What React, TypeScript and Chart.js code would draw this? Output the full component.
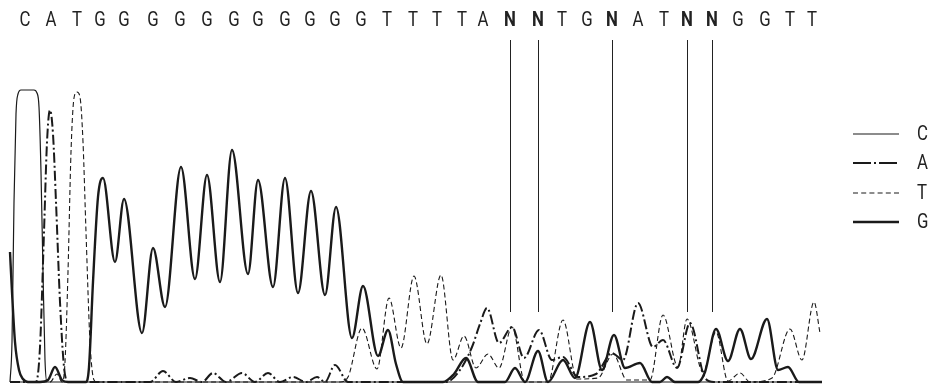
import React, { useEffect, useRef } from "react";
import { Chart, registerables } from "chart.js";

Chart.register(...registerables);

// Base calls and their scan positions
const baseCalls = [
  "C", "A", "T",
  "G", "G", "G", "G", "G", "G", "G", "G", "G", "G", "G",
  "T", "T", "T", "T",
  "A", "N", "N", "T", "G", "N", "A", "T", "N", "N", "G", "G", "T", "T",
];
const callPositions = [
  25, 51, 77,
  100, 124, 153, 180, 207, 234, 258, 285, 310, 335, 361,
  387, 413, 437, 462,
  483, 510, 538, 562, 587, 612, 638, 664, 687, 712, 738, 765, 790, 812,
];

// Trace channels: [scan position, intensity]
const traceC: [number, number][] = [
  [10, 0], [12, 40], [14, 180], [16, 268], [18, 288], [21, 292], [34, 292], [37, 289],
  [39, 275], [41, 210], [43, 110], [45, 22], [47, 0], [822, 0],
];

const traceA: [number, number][] = [
  [10, 0], [36, 0], [40, 35], [44, 150], [47, 240], [50, 272], [53, 248], [56, 180],
  [60, 80], [64, 15], [68, 0],
  [150, 0], [163, 11], [176, 0], [190, 4], [202, 0], [213, 9], [226, 0], [242, 9],
  [255, 0], [268, 9], [280, 0], [293, 5], [306, 0], [317, 5], [325, 0], [335, 17], [348, 0],
  [446, 0], [460, 12], [472, 35], [480, 58], [487, 74], [499, 39], [512, 55], [524, 24],
  [539, 52], [552, 22], [563, 25], [578, 5], [596, 8], [612, 29], [623, 22], [638, 79],
  [653, 35], [663, 42], [677, 14], [690, 59], [705, 4], [714, 0], [822, 0],
];

const traceT: [number, number][] = [
  [10, 0], [50, 0], [57, 8], [62, 0], [65, 20], [68, 110], [71, 230], [74, 284], [77, 290],
  [80, 285], [83, 240], [86, 150], [90, 40], [94, 2], [97, 0],
  [340, 0], [348, 5], [362, 54], [377, 13], [389, 84], [401, 34], [414, 106], [427, 38],
  [441, 107], [453, 22], [464, 46], [476, 14], [488, 28], [499, 14], [512, 55], [525, 0],
  [548, 0], [563, 62], [577, 3], [598, 4], [613, 28], [627, 2], [650, 2], [663, 67],
  [678, 15], [687, 63], [703, 10], [716, 50], [728, 1], [740, 9], [750, 0], [772, 4],
  [790, 53], [802, 22], [814, 80], [820, 49],
];

const traceG: [number, number][] = [
  [10, 130], [12, 90], [15, 40], [19, 12], [23, 3], [28, 0], [40, 0], [48, 2], [55, 15],
  [62, 2], [68, 0], [86, 0], [89, 15], [93, 100], [98, 185], [103, 204], [115, 120],
  [124, 183], [142, 49], [153, 134], [165, 75], [181, 215], [195, 103], [207, 207],
  [220, 100], [232, 232], [248, 108], [258, 202], [273, 95], [285, 204], [298, 89],
  [311, 191], [325, 87], [336, 175], [352, 44], [363, 96], [378, 26], [388, 52], [396, 18],
  [403, 0], [443, 0], [454, 8], [466, 24], [478, 0], [505, 0], [515, 14], [525, 0],
  [538, 31], [548, 0], [563, 22], [575, 4], [590, 60], [602, 12], [614, 47], [625, 14],
  [640, 19], [652, 0], [660, 0], [667, 5], [675, 0], [698, 0], [705, 10], [716, 53],
  [728, 21], [740, 53], [751, 23], [767, 63], [778, 12], [788, 15], [799, 0], [822, 0],
];

const channelNames = ["C", "A", "T", "G"];
const nLineTopValue = 342;
const nLineBottomValue = 70;

const FONT = "Roboto, 'Liberation Sans', sans-serif";
const INK = "#1a1a1a";

function drawCondensed(ctx: CanvasRenderingContext2D, text: string, x: number, y: number, align: CanvasTextAlign) {
  ctx.save();
  ctx.translate(x, y);
  ctx.scale(0.8, 1);
  ctx.textAlign = align;
  ctx.fillText(text, 0, 0);
  ctx.restore();
}

const overlayPlugin = {
  id: "overlay",
  afterDraw(chart: any) {
    const ctx = chart.ctx as CanvasRenderingContext2D;
    const xs = chart.scales.x;
    const ys = chart.scales.y;
    ctx.save();
    // vertical lines at ambiguous calls
    ctx.strokeStyle = "#222";
    ctx.lineWidth = 1;
    ctx.setLineDash([]);
    baseCalls.forEach((b, i) => {
      if (b !== "N") return;
      const x = Math.round(xs.getPixelForValue(callPositions[i])) + 0.5;
      ctx.beginPath();
      ctx.moveTo(x, ys.getPixelForValue(nLineTopValue));
      ctx.lineTo(x, ys.getPixelForValue(nLineBottomValue));
      ctx.stroke();
    });
    // sequence letters
    ctx.fillStyle = "#222";
    ctx.textBaseline = "middle";
    baseCalls.forEach((b, i) => {
      ctx.font = (b === "N" ? "bold " : "") + "21px " + FONT;
      drawCondensed(ctx, b, xs.getPixelForValue(callPositions[i]), 21, "center");
    });
    // legend
    const legendY = [134, 163, 193, 222];
    const dashes = [[], [18, 3, 2, 3], [5, 3.2], []];
    const widths = [1.2, 2, 1.1, 2.4];
    channelNames.forEach((name, i) => {
      ctx.strokeStyle = INK;
      ctx.lineWidth = widths[i];
      ctx.setLineDash(dashes[i]);
      ctx.beginPath();
      ctx.moveTo(853, legendY[i]);
      ctx.lineTo(899, legendY[i]);
      ctx.stroke();
      ctx.setLineDash([]);
      ctx.font = "21px " + FONT;
      drawCondensed(ctx, name, 917, legendY[i] + 1, "left");
    });
    ctx.restore();
  },
};

function toXY(arr: [number, number][]) {
  return arr.map(([x, y]) => ({ x, y }));
}

export default function App() {
  const ref = useRef<HTMLCanvasElement>(null);
  useEffect(() => {
    if (!ref.current) return;
    const common = {
      pointRadius: 0,
      fill: false,
      cubicInterpolationMode: "monotone" as const,
      borderColor: INK,
      clip: false as any,
    };
    const chart = new Chart(ref.current, {
      type: "line",
      data: {
        datasets: [
          { ...common, label: "C", data: toXY(traceC), borderWidth: 1.2 },
          { ...common, label: "A", data: toXY(traceA), borderWidth: 2, borderDash: [10, 3, 2, 3] },
          { ...common, label: "T", data: toXY(traceT), borderWidth: 1.1, borderDash: [5, 3] },
          { ...common, label: "G", data: toXY(traceG), borderWidth: 2.4 },
        ],
      },
      options: {
        responsive: false,
        animation: false,
        devicePixelRatio: 1,
        layout: { padding: { left: 10, right: 109, top: 90, bottom: 3 } },
        plugins: { legend: { display: false }, tooltip: { enabled: false } },
        scales: {
          x: { type: "linear", min: 10, max: 822, display: false },
          y: { min: 0, max: 292, display: false },
        },
      },
      plugins: [overlayPlugin],
    });
    return () => chart.destroy();
  }, []);
  return (
    <div style={{ position: "absolute", left: 0, top: 0, width: 931, height: 385, background: "#fff" }}>
      <canvas ref={ref} width={931} height={385} style={{ display: "block" }} />
    </div>
  );
}
